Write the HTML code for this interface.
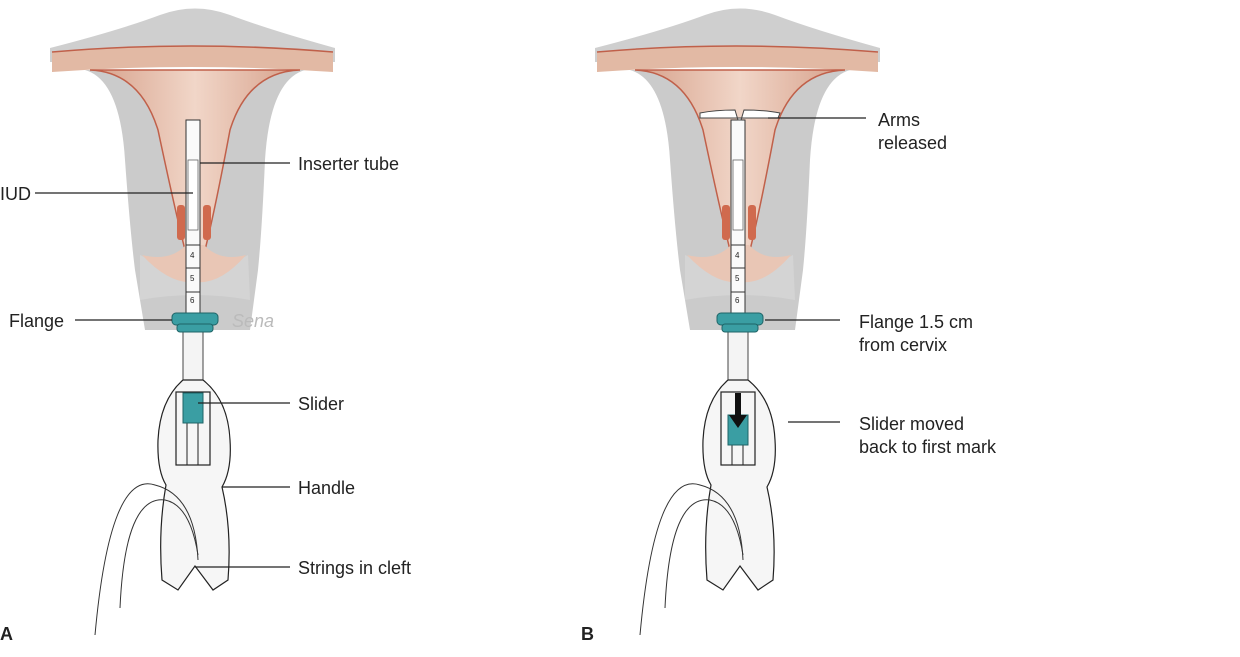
<!DOCTYPE html>
<html><head><meta charset="utf-8"><style>
html,body{margin:0;padding:0;background:#fff;}
svg{display:block;}
text{font-family:"Liberation Sans",sans-serif;font-size:18px;fill:#222;}
</style></head><body>
<svg width="1240" height="657" viewBox="0 0 1240 657" xmlns="http://www.w3.org/2000/svg">
<defs>
<linearGradient id="pk" x1="0" x2="1"><stop offset="0" stop-color="#d6a08a"/><stop offset="0.5" stop-color="#f1d6c8"/><stop offset="1" stop-color="#d6a08a"/></linearGradient>
<g id="ut">
  <path d="M50,48 Q120,30 160,15 Q195,2 230,15 Q270,30 335,48 L335,62 L50,62 Z" fill="#cfcfcf"/>
  <path d="M52,52 Q190,40 333,52 L333,72 Q190,62 52,72 Z" fill="#e2b9a4"/>
  <path d="M52,52 Q190,40 333,52" stroke="#c0604a" fill="none" stroke-width="1.5"/>
  <path d="M85,70 Q120,80 125,160 Q130,230 135,270 L145,330 L250,330 L258,270 Q262,230 265,160 Q270,80 305,70 Z" fill="#cbcbcb"/>
  <path d="M90,70 Q140,72 158,130 Q175,210 185,250 L205,250 Q215,210 230,130 Q248,72 300,70 Z" fill="url(#pk)" stroke="#c0604a" stroke-width="1.5"/>
  <path d="M140,255 Q170,270 195,268 Q222,270 248,255 L250,300 Q195,290 140,300 Z" fill="#d4d4d4"/>
  <path d="M142,255 Q170,262 186,245 L204,245 Q220,262 246,255 Q220,285 195,282 Q170,285 142,255 Z" fill="#e9c6b5"/>
  <g fill="#d06a4e"><rect x="177" y="205" width="8" height="35" rx="3"/><rect x="203" y="205" width="8" height="35" rx="3"/></g>
  <rect x="186" y="120" width="14" height="195" fill="#fafafa" stroke="#333" stroke-width="1"/>
  <rect x="188" y="160" width="10" height="70" fill="#fff" stroke="#666" stroke-width="0.8"/>
  <g stroke="#333" stroke-width="1"><line x1="186" y1="245" x2="200" y2="245"/><line x1="186" y1="268" x2="200" y2="268"/><line x1="186" y1="292" x2="200" y2="292"/></g>
  <text x="190" y="258" style="font-size:8px">4</text><text x="190" y="281" style="font-size:8px">5</text><text x="190" y="303" style="font-size:8px">6</text>
  <rect x="183" y="328" width="20" height="60" fill="#f4f4f4" stroke="#444"/>
  <rect x="172" y="313" width="46" height="12" rx="4" fill="#3a9ea3" stroke="#1f6467"/>
  <rect x="177" y="324" width="36" height="8" rx="3" fill="#3a9ea3" stroke="#1f6467"/>
  <path d="M183,380 Q160,400 158,440 Q157,470 166,485 Q158,530 162,580 L178,590 L195,566 L213,590 L228,580 Q232,530 222,487 Q232,470 230,440 Q228,400 203,380 Z" fill="#f6f6f6" stroke="#222" stroke-width="1.2"/>
  <path d="M95,635 Q110,470 155,485 Q195,495 198,560" fill="none" stroke="#333" stroke-width="1"/>
  <path d="M120,608 Q125,495 165,500 Q190,505 198,555" fill="none" stroke="#333" stroke-width="1"/>
  <rect x="176" y="392" width="34" height="73" fill="none" stroke="#222" stroke-width="1.2"/>
  <line x1="187" y1="422" x2="187" y2="465" stroke="#222"/><line x1="198" y1="422" x2="198" y2="465" stroke="#222"/>
</g>
</defs>
<use href="#ut"/>
<use href="#ut" x="545"/>
<!-- panel A specifics -->
<rect x="183" y="393" width="20" height="30" fill="#3a9ea3" stroke="#1f6467"/>
<text x="232" y="327" style="font-size:18px;fill:#bbb;font-style:italic">Sena</text>
<g stroke="#222" stroke-width="1.2">
<line x1="200" y1="163" x2="290" y2="163"/>
<line x1="35" y1="193" x2="193" y2="193"/>
<line x1="75" y1="320" x2="172" y2="320"/>
<line x1="198" y1="403" x2="290" y2="403"/>
<line x1="222" y1="487" x2="290" y2="487"/>
<line x1="195" y1="567" x2="290" y2="567"/>
</g>
<text x="298" y="170">Inserter tube</text>
<text x="0" y="200">IUD</text>
<text x="9" y="327">Flange</text>
<text x="298" y="410">Slider</text>
<text x="298" y="494">Handle</text>
<text x="298" y="574">Strings in cleft</text>
<text x="0" y="640" style="font-weight:bold">A</text>
<!-- panel B specifics -->
<path d="M700,113 Q715,110 735,110 L738,120 L741,120 L744,110 Q765,110 780,113 L778,118 L700,118 Z" fill="#fff" stroke="#444"/>
<rect x="728" y="415" width="20" height="30" fill="#3a9ea3" stroke="#1f6467"/>
<path d="M735,393 L741,393 L741,415 L747,415 L738,428 L729,415 L735,415 Z" fill="#111"/>
<g stroke="#222" stroke-width="1.2">
<line x1="768" y1="118" x2="866" y2="118"/>
<line x1="765" y1="320" x2="840" y2="320"/>
<line x1="788" y1="422" x2="840" y2="422"/>
</g>
<text x="878" y="126">Arms</text><text x="878" y="149">released</text>
<text x="859" y="328">Flange 1.5 cm</text><text x="859" y="351">from cervix</text>
<text x="859" y="430">Slider moved</text><text x="859" y="453">back to first mark</text>
<text x="581" y="640" style="font-weight:bold">B</text>
</svg>
</body></html>
